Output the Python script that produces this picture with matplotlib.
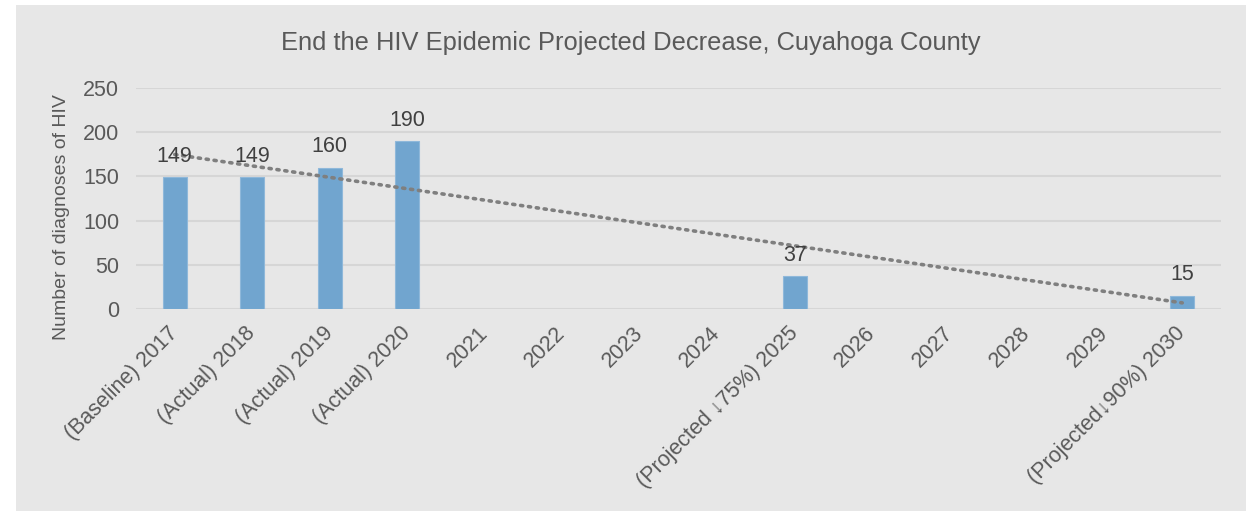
import numpy as np
import matplotlib.pyplot as plt
from matplotlib.patches import Rectangle

plt.rcParams['font.family'] = ['Liberation Sans', 'DejaVu Sans']

# Datos
categorias = ['(Baseline) 2017', '(Actual) 2018', '(Actual) 2019', '(Actual) 2020',
              '2021', '2022', '2023', '2024', '(Projected \u219375%) 2025',
              '2026', '2027', '2028', '2029', '(Projected\u219390%) 2030']
valores = [149, 149, 160, 190, None, None, None, None, 37, None, None, None, None, 15]

color_texto = '#595959'
color_barra = '#71a5cf'
fondo = '#e7e7e7'

fig = plt.figure(figsize=(12.46, 5.11), dpi=100)
fig.patches.append(Rectangle((16 / 1246, 0), 1 - 16 / 1246, 1 - 5 / 511,
                             transform=fig.transFigure, facecolor=fondo,
                             edgecolor='none', zorder=-10))
ax = fig.add_axes([136 / 1246, 1 - 309 / 511, (1221 - 136) / 1246, (309 - 88) / 511])
ax.set_facecolor('none')

x = np.arange(len(categorias))
y = np.array([np.nan if v is None else v for v in valores], dtype=float)
ok = ~np.isnan(y)

ax.bar(x[ok], y[ok], width=0.31, color=color_barra, edgecolor='#8fb8da',
       linewidth=0.8, zorder=2)
for xi, yi in zip(x[ok], y[ok]):
    ax.annotate(f'{int(yi)}', (xi, yi), xytext=(0, 7.5), textcoords='offset points',
                ha='center', va='bottom', fontsize=15.5, color='#404040', zorder=4)

# Linea de tendencia lineal (solo puntos con datos)
m, b = np.polyfit(x[ok] + 1, y[ok], 1)
xt = np.array([x[0], x[-1]])
ax.plot(xt, m * (xt + 1) + b, linestyle=(0, (0.6, 1.6)), color='#7f7f7f',
        linewidth=2.6, dash_capstyle='round', zorder=3)

ax.set_xlim(-0.5, len(categorias) - 0.5)
ax.set_ylim(0, 250)
ax.set_yticks(range(0, 251, 50))
ax.yaxis.grid(True, color='#d6d6d6', linewidth=1.5, zorder=1)
ax.set_axisbelow(True)
for s in ax.spines.values():
    s.set_visible(False)
ax.tick_params(length=0, labelsize=15.5, labelcolor=color_texto)
ax.tick_params(axis='y', pad=12)
ax.set_xticks(x)
ax.set_xticklabels(categorias, rotation=45, ha='right', va='center',
                   rotation_mode='anchor')
ax.tick_params(axis='x', pad=15)

fig.text(62 / 1246, 1 - 217 / 511, 'Number of diagnoses of HIV', rotation=90,
         ha='center', va='center', fontsize=14, color=color_texto)
fig.text(631 / 1246, 1 - 43 / 511, 'End the HIV Epidemic Projected Decrease, Cuyahoga County',
         ha='center', va='center', fontsize=18.4, color=color_texto)

fig.savefig('out.png', dpi=100)
